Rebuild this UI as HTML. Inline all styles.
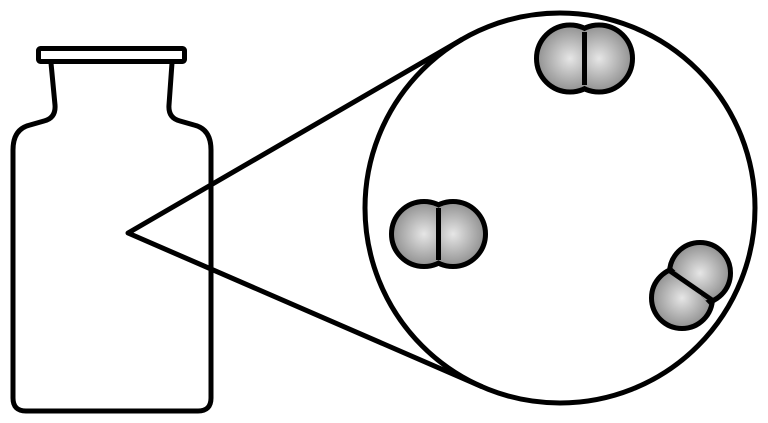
<!DOCTYPE html>
<html><head><style>html,body{margin:0;padding:0;background:#fff}svg{display:block}</style></head>
<body>
<svg width="768" height="423" viewBox="0 0 768 423" xmlns="http://www.w3.org/2000/svg">
<defs>
<radialGradient id="g" cx="50%" cy="50%" r="55%">
<stop offset="0" stop-color="#e6e6e6"/><stop offset="1" stop-color="#8e8e8e"/>
</radialGradient>
<clipPath id="c1l"><rect x="0" y="0" width="584.5" height="423"/></clipPath>
<clipPath id="c1r"><rect x="584.5" y="0" width="200" height="423"/></clipPath>
<clipPath id="c2l"><rect x="0" y="0" width="438.5" height="423"/></clipPath>
<clipPath id="c2r"><rect x="438.5" y="0" width="300" height="423"/></clipPath>
<clipPath id="c3u"><polygon points="600,200 800,200 800,400 691,285.5 691,285.5"/></clipPath>
<clipPath id="c3l"><polygon points="600,200 691,285.5 800,400 600,400"/></clipPath>
</defs>
<g fill="none" stroke="#000" stroke-width="5" stroke-linejoin="round">
<rect x="38.5" y="48.5" width="146" height="13" rx="2" fill="#fff"/>
<path d="M51 63 L55 105 Q56 118 44 121 L30 125 Q13 129 13 150 L13 398 Q13 411 26 411 L198 411 Q211 411 211 398 L211 150 Q211 129 194 125 L180 121 Q168 118 169 105 L172 63"/>
<circle cx="560" cy="208" r="195"/>
<polyline points="462.2,39.3 128,233 482.3,386.8"/>
</g>
<g>
<circle cx="570" cy="58.5" r="31" fill="none" stroke="#000" stroke-width="10"/>
<circle cx="599" cy="58.5" r="31" fill="none" stroke="#000" stroke-width="10"/>
<circle cx="570" cy="58.5" r="31" fill="url(#g)" clip-path="url(#c1l)"/>
<circle cx="599" cy="58.5" r="31" fill="url(#g)" clip-path="url(#c1r)"/>
<line x1="584.5" y1="32" x2="584.5" y2="85" stroke="#000" stroke-width="5"/>
</g>
<g>
<circle cx="424" cy="234" r="30" fill="none" stroke="#000" stroke-width="10"/>
<circle cx="453" cy="234" r="30" fill="none" stroke="#000" stroke-width="10"/>
<circle cx="424" cy="234" r="30" fill="url(#g)" clip-path="url(#c2l)"/>
<circle cx="453" cy="234" r="30" fill="url(#g)" clip-path="url(#c2r)"/>
<line x1="438.5" y1="208" x2="438.5" y2="260" stroke="#000" stroke-width="5"/>
</g>
<g>
<circle cx="700" cy="273" r="28" fill="none" stroke="#000" stroke-width="10"/>
<circle cx="682" cy="298" r="28" fill="none" stroke="#000" stroke-width="10"/>
<circle cx="700" cy="273" r="28" fill="url(#g)" clip-path="url(#c3u)"/>
<circle cx="682" cy="298" r="28" fill="url(#g)" clip-path="url(#c3l)"/>
<line x1="670" y1="271" x2="712" y2="300" stroke="#000" stroke-width="5"/>
</g>
</svg>
</body></html>
